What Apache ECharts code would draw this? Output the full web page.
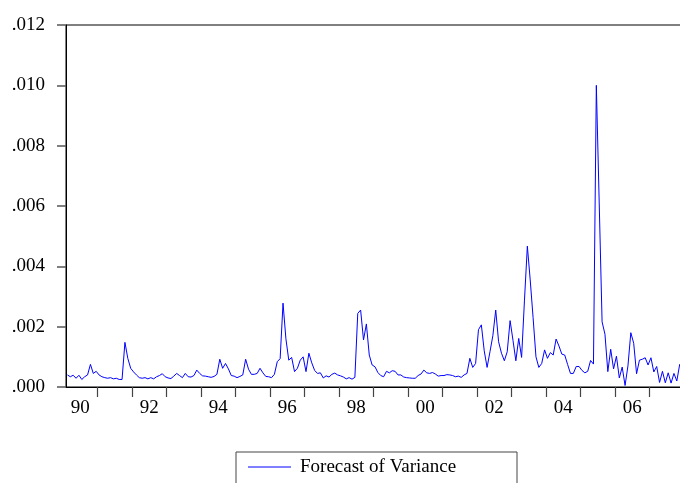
<!DOCTYPE html>
<html>
<head>
<meta charset="utf-8">
<script src="https://cdn.jsdelivr.net/npm/echarts@6/dist/echarts.min.js"></script>
<style>
html,body{margin:0;padding:0;background:#fff;overflow:hidden;width:680px;height:483px;}
#chart{width:690px;height:483px;}
</style>
</head>
<body>
<div id="chart"></div>
<script>
// Monthly observations, first = 1990M02
var seriesName = 'Forecast of Variance';
var yearLabels = ['90','92','94','96','98','00','02','04','06'];
var yTicks = [0, 0.002, 0.004, 0.006, 0.008, 0.010, 0.012];
var variance = [
0.00040,0.00034,0.00039,0.00029,0.00039,0.00025,0.00034,0.00040,0.00075,0.00045,
0.00052,0.00040,0.00034,0.00031,0.00029,0.00031,0.00027,0.00029,0.00025,0.00025,
0.00148,0.00095,0.00062,0.00050,0.00040,0.00031,0.00029,0.00031,0.00027,0.00031,
0.00027,0.00034,0.00038,0.00044,0.00034,0.00030,0.00028,0.00036,0.00045,0.00038,
0.00031,0.00045,0.00034,0.00033,0.00038,0.00056,0.00045,0.00037,0.00036,0.00034,
0.00032,0.00035,0.00042,0.00092,0.00062,0.00078,0.00060,0.00038,0.00036,0.00031,
0.00035,0.00040,0.00092,0.00059,0.00042,0.00042,0.00045,0.00062,0.00047,0.00035,
0.00034,0.00031,0.00042,0.00084,0.00094,0.00278,0.00160,0.00089,0.00098,0.00051,
0.00062,0.00089,0.00100,0.00051,0.00112,0.00080,0.00055,0.00045,0.00047,0.00030,
0.00037,0.00033,0.00042,0.00046,0.00040,0.00037,0.00033,0.00027,0.00031,0.00026,
0.00032,0.00244,0.00255,0.00156,0.00209,0.00106,0.00073,0.00067,0.00048,0.00038,
0.00034,0.00052,0.00047,0.00054,0.00052,0.00040,0.00040,0.00033,0.00031,0.00030,
0.00029,0.00029,0.00038,0.00043,0.00056,0.00047,0.00045,0.00048,0.00043,0.00036,
0.00038,0.00038,0.00041,0.00040,0.00038,0.00034,0.00036,0.00032,0.00040,0.00045,
0.00095,0.00065,0.00078,0.00190,0.00206,0.00120,0.00065,0.00117,0.00170,0.00255,
0.00150,0.00112,0.00087,0.00117,0.00220,0.00155,0.00087,0.00161,0.00098,0.00288,
0.00467,0.00355,0.00230,0.00100,0.00065,0.00078,0.00123,0.00095,0.00114,0.00106,
0.00159,0.00136,0.00109,0.00106,0.00075,0.00045,0.00045,0.00068,0.00068,0.00055,
0.00047,0.00052,0.00088,0.00076,0.01000,0.00610,0.00216,0.00175,0.00051,0.00125,
0.00060,0.00102,0.00030,0.00066,0.00005,0.00070,0.00180,0.00145,0.00044,0.00089,
0.00092,0.00097,0.00073,0.00097,0.00050,0.00068,0.00015,0.00052,0.00014,0.00047,
0.00013,0.00045,0.00020,0.00075,0.00060
];

// months since start of 1990M02; observations plotted mid-month
var points = variance.map(function (v, i) { return [i + 0.5, v]; });
var januaryTicks = [];
for (var k = 0; k < 17; k++) januaryTicks.push(11 + 12 * k);
var labelPos = yearLabels.map(function (s, k) { return 5 + 24 * k; });

var serif = 'Liberation Serif, Times New Roman, serif';
var chart = echarts.init(document.getElementById('chart'), null, {renderer: 'canvas'});
chart.setOption({
  animation: false,
  backgroundColor: '#fff',
  grid: {left: 66, top: 25, right: 6, height: 362, show: true, borderColor: '#000', borderWidth: 1, containLabel: false},
  xAxis: {
    type: 'value', min: 0, max: 215,
    axisLine: {show: true, lineStyle: {color: '#000', width: 1}},
    axisTick: {show: true, length: 10, customValues: januaryTicks, lineStyle: {color: '#444', width: 1.2}},
    axisLabel: {
      customValues: labelPos, margin: 12,
      fontFamily: serif, fontSize: 19, color: '#000',
      formatter: function (v) { return yearLabels[Math.round((v - 5) / 24)]; }
    },
    splitLine: {show: false}
  },
  yAxis: {
    type: 'value', min: yTicks[0], max: yTicks[yTicks.length - 1], interval: 0.002,
    axisLine: {show: true, lineStyle: {color: '#000', width: 1}},
    axisTick: {show: true, length: 9, lineStyle: {color: '#555', width: 1.5}},
    axisLabel: {
      margin: 21, fontFamily: serif, fontSize: 19, color: '#000',
      formatter: function (v) { return v.toFixed(3).replace(/^0/, ''); }
    },
    splitLine: {show: false}
  },
  legend: {
    show: true, left: 236, top: 452,
    data: [seriesName],
    icon: 'rect', itemWidth: 43, itemHeight: 1,
    borderColor: '#444', borderWidth: 1,
    padding: [5, 12, 30, 12],
    textStyle: {fontFamily: serif, fontSize: 19, color: '#000', padding: [0, 0, 0, 4], width: 205, lineHeight: 20}
  },
  series: [{
    name: seriesName, type: 'line', data: points,
    symbol: 'none', lineStyle: {color: '#0000ff', width: 1}, itemStyle: {color: '#0000ff'}
  }]
});
</script>
</body>
</html>
